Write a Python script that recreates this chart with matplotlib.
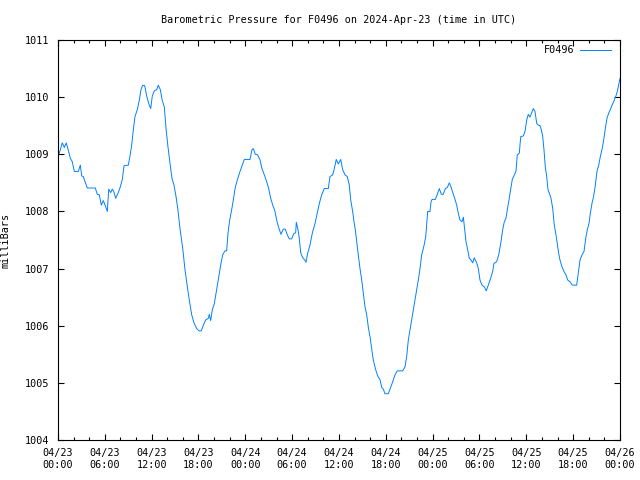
import datetime as dt
import matplotlib
matplotlib.use("Agg")
from matplotlib import pyplot as plt
import matplotlib.dates as mdates
from matplotlib.ticker import MultipleLocator

# hours after 2024-04-23 00:00 UTC
hours = [
    0.17, 0.55, 0.81, 1.06, 1.32, 1.58, 1.83, 2.09, 2.60, 2.86, 3.04, 3.24, 3.55, 3.75,
    4.78, 5.03, 5.29, 5.55, 5.80, 6.06, 6.32, 6.50, 6.75, 6.96, 7.14, 7.39, 7.73, 7.98,
    8.24, 8.46, 9.01, 9.22, 9.44, 9.65, 9.86, 10.16, 10.42, 10.63, 10.85, 11.11, 11.36,
    11.62, 11.88, 12.08, 12.34, 12.64, 12.85, 13.11, 13.36, 13.62, 13.84, 14.09, 14.35,
    14.60, 14.86, 15.12, 15.37, 15.63, 15.98, 16.27, 16.57, 16.82, 17.13, 17.42, 17.77,
    18.06, 18.36, 18.62, 18.92, 19.26, 19.38, 19.56, 19.77, 20.02, 20.33, 20.59, 20.84,
    21.10, 21.39, 21.61, 21.78, 22.00, 22.25, 22.46, 22.68, 22.97, 23.32, 23.61, 23.87,
    24.60, 24.85, 25.02, 25.28, 25.58, 25.88, 26.13, 26.43, 26.74, 26.99, 27.25, 27.51,
    27.80, 28.06, 28.31, 28.57, 28.86, 29.12, 29.38, 29.63, 29.94, 30.20, 30.45, 30.53,
    30.75, 30.91, 31.09, 31.35, 31.61, 31.77, 31.99, 32.28, 32.58, 32.93, 33.22, 33.48,
    33.78, 34.12, 34.63, 34.85, 35.19, 35.40, 35.65, 35.91, 36.22, 36.47, 36.77, 37.06,
    37.32, 37.50, 37.75, 37.92, 38.09, 38.27, 38.47, 38.69, 38.91, 39.11, 39.33, 39.55,
    39.75, 39.97, 40.19, 40.39, 40.70, 40.99, 41.25, 41.47, 41.68, 41.89, 42.32, 42.53,
    42.88, 43.17, 43.47, 44.16, 44.46, 44.67, 44.88, 45.10, 45.31, 45.52, 45.74, 45.95,
    46.16, 46.38, 46.59, 46.89, 47.11, 47.24, 47.36, 47.66, 47.79, 47.92, 48.34, 48.60,
    48.85, 49.11, 49.36, 49.62, 49.88, 50.13, 50.35, 50.57, 50.82, 51.08, 51.28, 51.50,
    51.76, 51.93, 52.10, 52.27, 52.49, 52.69, 52.91, 53.13, 53.33, 53.64, 53.85, 54.06,
    54.32, 54.62, 54.87, 55.13, 55.38, 55.69, 55.86, 56.20, 56.46, 56.72, 56.97, 57.18,
    57.39, 57.56, 57.74, 57.99, 58.20, 58.46, 58.67, 58.84, 59.10, 59.28, 59.61, 59.83,
    60.05, 60.25, 60.47, 60.69, 60.89, 61.11, 61.33, 61.53, 61.75, 61.92, 62.10, 62.26,
    62.43, 62.61, 62.78, 62.94, 63.16, 63.38, 63.58, 63.80, 63.96, 64.14, 64.31, 64.57,
    64.82, 65.08, 65.30, 65.59, 65.89, 66.45, 66.66, 66.88, 67.13, 67.39, 67.61, 67.81,
    68.03, 68.20, 68.41, 68.63, 68.84, 69.05, 69.27, 69.48, 69.69, 69.91, 70.12, 70.33,
    70.55, 70.76, 70.97, 71.19, 71.45, 71.66, 72.0,
]

pressure = [
    1009.02, 1009.20, 1009.12, 1009.20, 1009.07, 1008.93, 1008.87, 1008.70, 1008.70, 1008.81,
    1008.62, 1008.61, 1008.49, 1008.41, 1008.41, 1008.30, 1008.29, 1008.11, 1008.19, 1008.10,
    1008.00, 1008.39, 1008.33, 1008.39, 1008.35, 1008.23, 1008.33, 1008.43, 1008.56, 1008.80,
    1008.81, 1008.97, 1009.16, 1009.43, 1009.66, 1009.78, 1009.95, 1010.13, 1010.21, 1010.20,
    1010.02, 1009.89, 1009.80, 1010.02, 1010.11, 1010.13, 1010.21, 1010.13, 1009.94, 1009.83,
    1009.45, 1009.13, 1008.84, 1008.58, 1008.46, 1008.26, 1008.02, 1007.70, 1007.35, 1006.98,
    1006.68, 1006.45, 1006.19, 1006.05, 1005.95, 1005.91, 1005.91, 1006.01, 1006.10, 1006.13,
    1006.20, 1006.09, 1006.28, 1006.38, 1006.64, 1006.86, 1007.06, 1007.24, 1007.31, 1007.31,
    1007.62, 1007.85, 1008.03, 1008.20, 1008.40, 1008.55, 1008.70, 1008.81, 1008.91, 1008.91,
    1009.08, 1009.10, 1009.00, 1008.99, 1008.90, 1008.75, 1008.64, 1008.52, 1008.40, 1008.23,
    1008.11, 1008.00, 1007.82, 1007.70, 1007.60, 1007.69, 1007.69, 1007.59, 1007.52, 1007.52,
    1007.61, 1007.63, 1007.81, 1007.68, 1007.53, 1007.28, 1007.19, 1007.15, 1007.11, 1007.27,
    1007.41, 1007.62, 1007.79, 1007.97, 1008.14, 1008.29, 1008.40, 1008.40, 1008.61, 1008.64,
    1008.75, 1008.91, 1008.83, 1008.91, 1008.73, 1008.64, 1008.61, 1008.46, 1008.20, 1008.00,
    1007.82, 1007.68, 1007.47, 1007.24, 1007.00, 1006.80, 1006.57, 1006.33, 1006.19, 1005.98,
    1005.81, 1005.60, 1005.40, 1005.23, 1005.11, 1005.06, 1004.92, 1004.89, 1004.81, 1004.81,
    1004.89, 1005.02, 1005.14, 1005.21, 1005.21, 1005.28, 1005.46, 1005.75, 1005.93, 1006.10,
    1006.28, 1006.45, 1006.63, 1006.80, 1007.00, 1007.24, 1007.40, 1007.56, 1007.79, 1008.00,
    1008.00, 1008.17, 1008.21, 1008.21, 1008.30, 1008.40, 1008.30, 1008.30, 1008.40, 1008.42,
    1008.50, 1008.43, 1008.33, 1008.23, 1008.11, 1007.97, 1007.85, 1007.82, 1007.90, 1007.68,
    1007.47, 1007.33, 1007.18, 1007.15, 1007.10, 1007.19, 1007.10, 1007.00, 1006.80, 1006.71,
    1006.68, 1006.61, 1006.71, 1006.81, 1006.95, 1007.09, 1007.12, 1007.24, 1007.44, 1007.68,
    1007.82, 1007.88, 1008.03, 1008.17, 1008.38, 1008.56, 1008.64, 1008.70, 1008.99, 1009.02,
    1009.31, 1009.32, 1009.40, 1009.60, 1009.70, 1009.65, 1009.73, 1009.80, 1009.75, 1009.54,
    1009.51, 1009.50, 1009.43, 1009.31, 1009.08, 1008.78, 1008.61, 1008.38, 1008.32, 1008.23,
    1008.05, 1007.76, 1007.59, 1007.44, 1007.27, 1007.15, 1007.03, 1006.95, 1006.89, 1006.80,
    1006.77, 1006.71, 1006.71, 1006.92, 1007.15, 1007.24, 1007.30, 1007.53, 1007.68, 1007.79,
    1007.97, 1008.14, 1008.27, 1008.46, 1008.70, 1008.81, 1008.96, 1009.08, 1009.25, 1009.45,
    1009.63, 1009.72, 1009.78, 1009.86, 1009.92, 1010.01, 1010.10, 1010.33,
]

station = "F0496"
start = dt.datetime(2024, 4, 23, 0, 0)
end = dt.datetime(2024, 4, 26, 0, 0)
times = [start + dt.timedelta(hours=h) for h in hours]

font = "DejaVu Sans Mono"
fs = 7.3

fig = plt.figure(figsize=(6.4, 4.8), dpi=100)
ax = fig.add_axes([58 / 640, 40 / 480, 562 / 640, 400 / 480])

ax.plot(times, pressure, color="#0080ff", linewidth=0.7, label=station)

ax.set_xlim(start, end)
ax.set_ylim(1004, 1011)

ax.xaxis.set_major_locator(mdates.HourLocator(byhour=[0, 6, 12, 18]))
ax.xaxis.set_minor_locator(mdates.HourLocator(byhour=range(0, 24, 2)))
ax.xaxis.set_major_formatter(mdates.DateFormatter("%m/%d\n%H:%M"))
ax.yaxis.set_major_locator(MultipleLocator(1))

ax.tick_params(which="both", direction="in", top=True, right=True, width=0.8, colors="black")
ax.tick_params(which="major", length=4)
ax.tick_params(which="minor", length=2.2)
ax.tick_params(axis="x", which="major", pad=6)
ax.tick_params(axis="y", which="major", pad=6)
for lbl in ax.get_xticklabels() + ax.get_yticklabels():
    lbl.set_fontfamily(font)
    lbl.set_fontsize(fs)

for s in ax.spines.values():
    s.set_linewidth(0.8)

ax.set_title("Barometric Pressure for %s on 2024-Apr-23 (time in UTC)" % station,
             fontfamily=font, fontsize=fs, pad=12)
ax.set_ylabel("milliBars", fontfamily=font, fontsize=fs)
ax.yaxis.set_label_coords(-0.085, 0.5)

ax.legend(loc="upper right", bbox_to_anchor=(1.0, 1.01), frameon=False, markerfirst=False,
          handlelength=3.0, borderaxespad=0.5, handletextpad=0.6,
          prop={"family": font, "size": fs})

fig.savefig("out.png", dpi=100)
